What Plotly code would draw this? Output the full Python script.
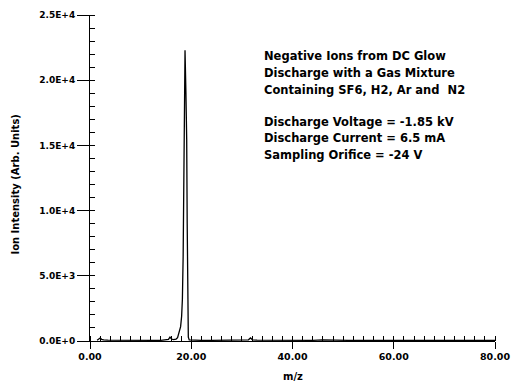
import plotly.graph_objects as go

# spectrum (m/z, intensity)
mz = [1.4, 1.7, 2.0, 2.3, 2.7, 3.5, 5.0, 6.5, 8.0, 9.5, 11.0, 12.5, 14.0, 15.0, 15.5, 15.8, 16.1,
      16.5, 17.0, 17.3, 17.6, 17.9, 18.1, 18.25, 18.4, 18.5, 18.6, 18.77, 18.95, 19.1, 19.2, 19.3,
      19.42, 19.6, 20.5, 22.0, 24.0, 26.0, 28.0, 30.0, 31.3, 31.7, 32.1, 33.0, 35.0, 38.0, 41.0,
      44.0, 46.0, 48.0, 51.0, 54.0, 57.0, 60.0, 63.0, 66.0, 69.0, 72.0, 75.0, 78.0, 80.0]
intensity = [60, 120, 230, 130, 80, 60, 50, 50, 45, 50, 45, 50, 55, 70, 120, 300, 150,
             110, 150, 250, 600, 1100, 1900, 3200, 6500, 12000, 17000, 22300, 19000, 15500, 9000, 3500,
             300, 80, 60, 55, 50, 50, 55, 60, 90, 230, 90, 60, 55, 50, 50,
             55, 90, 55, 50, 50, 45, 50, 45, 50, 45, 50, 45, 45, 45]

x_ticks = [0, 20, 40, 60, 80]
x_ticktext = ["0.00", "20.00", "40.00", "60.00", "80.00"]
y_ticks = [0, 5000, 10000, 15000, 20000, 25000]
y_ticktext = ["0.0E+0", "5.0E+3", "1.0E+4", "1.5E+4", "2.0E+4", "2.5E+4"]

info_lines = ["Negative Ions from DC Glow",
              "Discharge with a Gas Mixture",
              "Containing SF6, H2, Ar and  N2",
              "Discharge Voltage = -1.85 kV",
              "Discharge Current = 6.5 mA",
              "Sampling Orifice = -24 V"]
info_y = [0.874, 0.822, 0.770, 0.672, 0.623, 0.571]

FONT = "DejaVu Sans"

fig = go.Figure()
fig.add_trace(go.Scatter(x=mz, y=intensity, mode="lines",
                         line=dict(color="black", width=1.3), showlegend=False))

for t, yy in zip(info_lines, info_y):
    fig.add_annotation(text="<b>%s</b>" % t, x=0.425, y=yy, xref="paper", yref="paper",
                       xanchor="left", yanchor="middle", showarrow=False,
                       font=dict(family=FONT, size=11.5, color="black"))

fig.add_annotation(text="<b>Ion Intensity (Arb. Units)</b>", x=-0.185, y=0.48,
                   xref="paper", yref="paper", textangle=-90, showarrow=False,
                   xanchor="center", yanchor="middle",
                   font=dict(family=FONT, size=10, color="black"))
fig.add_annotation(text="<b>m/z</b>", x=0.5, y=-0.11, xref="paper", yref="paper",
                   showarrow=False, xanchor="center", yanchor="middle",
                   font=dict(family=FONT, size=10, color="black"))

fig.update_layout(
    width=511, height=381,
    margin=dict(l=90, r=16, t=15, b=40, autoexpand=False),
    paper_bgcolor="white", plot_bgcolor="white",
    font=dict(family=FONT, color="black"),
    xaxis=dict(range=[0, 80], showgrid=False, zeroline=False, showline=True,
               linecolor="black", linewidth=1, automargin=False,
               tickmode="array", tickvals=x_ticks, ticktext=["<b>%s</b>" % s for s in x_ticktext],
               ticks="outside", ticklen=7, tickwidth=1, tickcolor="black",
               tickfont=dict(family=FONT, size=9.5, color="black"),
               minor=dict(ticks="inside", dtick=2, ticklen=5, tickwidth=1, tickcolor="black",
                          showgrid=False)),
    yaxis=dict(range=[0, 25000], showgrid=False, zeroline=False, showline=True,
               linecolor="black", linewidth=1, automargin=False,
               tickmode="array", tickvals=y_ticks, ticktext=["<b>%s</b>" % s for s in y_ticktext],
               ticks="outside", ticklen=12, tickwidth=1, tickcolor="black",
               tickfont=dict(family=FONT, size=9, color="black"),
               minor=dict(ticks="inside", dtick=1000, ticklen=5, tickwidth=1, tickcolor="black",
                          showgrid=False)),
)

fig.write_html("out.html", config={"displayModeBar": False},
               post_script="document.body.style.margin='0';document.body.style.overflow='hidden';")
